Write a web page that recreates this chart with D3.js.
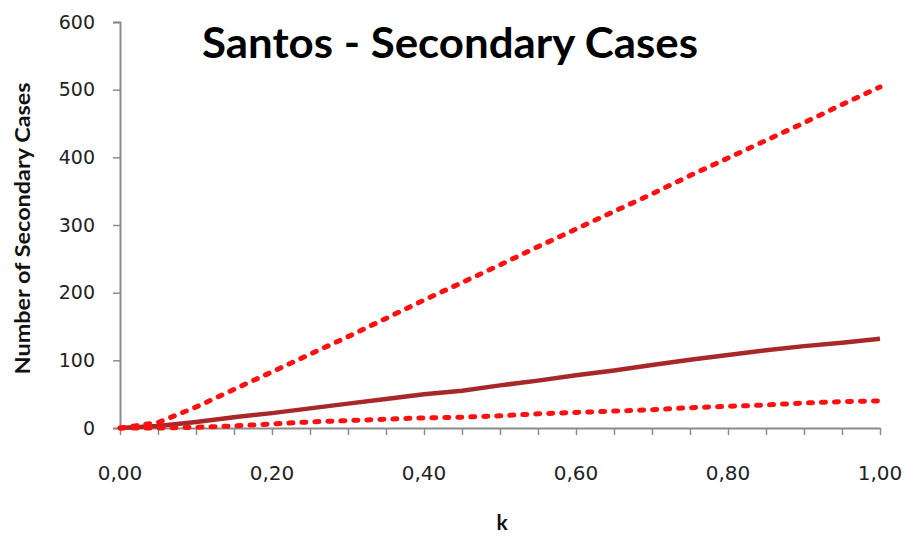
<!DOCTYPE html>
<html>
<head>
<meta charset="utf-8">
<script src="https://cdn.jsdelivr.net/npm/d3@7"></script>
<style>
  body { margin: 0; background: #fff; }
  svg { display: block; }
</style>
</head>
<body>
<svg width="907" height="536"></svg>
<script>
const kValues = [0, 0.05, 0.1, 0.15, 0.2, 0.25, 0.3, 0.35, 0.4, 0.45, 0.5,
  0.55, 0.6, 0.65, 0.7, 0.75, 0.8, 0.85, 0.9, 0.95, 1.0];
const upperCases = [0, 8, 31, 57, 83, 109, 135, 162, 189, 215, 241,
  268, 294, 320, 346, 373, 399, 425, 451, 478, 504];
const meanCases = [0, 3, 9, 16, 22, 29, 36, 43, 50, 55, 63,
  70, 78, 85, 93, 101, 108, 115, 121, 126, 132];
const lowerCases = [0, 0, 1, 3, 6, 9, 11, 13, 15, 16, 18,
  21, 23, 25, 27, 30, 32, 34, 37, 39, 40];
const yTicks = [0, 100, 200, 300, 400, 500, 600];
const xLabelTicks = [0, 0.2, 0.4, 0.6, 0.8, 1.0];

const svg = d3.select("svg");
const margin = { left: 120, right: 27, top: 22, bottom: 108 };
const width = +svg.attr("width");
const height = +svg.attr("height");

const x = d3.scaleLinear().domain([0, 1]).range([margin.left, width - margin.right]);
const y = d3.scaleLinear().domain([0, 600]).range([height - margin.bottom, margin.top]);

const axisColor = "#8c8c8c";
const tickFont = "'DejaVu Sans', Verdana, sans-serif";
const labelFont = "Lato, 'Open Sans', sans-serif";

// y axis
const yAxis = svg.append("g")
  .attr("transform", `translate(${margin.left},0)`)
  .call(d3.axisLeft(y).tickValues(yTicks).tickSize(7).tickPadding(18).tickFormat(d3.format("d")));
yAxis.select(".domain").attr("stroke", axisColor).attr("stroke-width", 2);
yAxis.selectAll(".tick line").attr("stroke", axisColor).attr("stroke-width", 1.5);
yAxis.selectAll(".tick text")
  .attr("fill", "#222").style("font-family", tickFont).style("font-size", "19px");

// x axis: minor ticks every 0.05, labels every 0.2
const xAxis = svg.append("g")
  .attr("transform", `translate(0,${y(0)})`)
  .call(d3.axisBottom(x).tickValues(kValues).tickSize(7).tickSizeOuter(0)
    .tickFormat(() => ""));
xAxis.select(".domain").attr("stroke", axisColor).attr("stroke-width", 2);
xAxis.selectAll(".tick line").attr("stroke", axisColor).attr("stroke-width", 1.5);

svg.append("g").selectAll("text")
  .data(xLabelTicks)
  .join("text")
  .attr("x", d => x(d))
  .attr("y", y(0) + 52)
  .attr("text-anchor", "middle")
  .attr("fill", "#222")
  .style("font-family", tickFont)
  .style("font-size", "20px")
  .text(d => d3.format(".2f")(d).replace(".", ","));

// lines
const line = vals => d3.line()
  .x((d, i) => x(kValues[i]))
  .y(d => y(d))(vals);

svg.append("path")
  .attr("d", line(meanCases))
  .attr("fill", "none")
  .attr("stroke", "#a8282a")
  .attr("stroke-width", 4.5)
  .attr("stroke-linejoin", "round");

[upperCases, lowerCases].forEach(vals => {
  svg.append("path")
    .attr("d", line(vals))
    .attr("fill", "none")
    .attr("stroke", "#ff1010")
    .attr("stroke-width", 5)
    .attr("stroke-linecap", "round")
    .attr("stroke-dasharray", "4,9");
});

// titles
svg.append("text")
  .attr("x", 450)
  .attr("y", 58)
  .attr("text-anchor", "middle")
  .attr("textLength", 496)
  .attr("lengthAdjust", "spacingAndGlyphs")
  .style("font-family", labelFont)
  .style("font-weight", "bold")
  .style("font-size", "42px")
  .attr("fill", "#000")
  .text("Santos - Secondary Cases");

svg.append("text")
  .attr("transform", `translate(30,${y(295)}) rotate(-90)`)
  .attr("text-anchor", "middle")
  .attr("textLength", 292)
  .attr("lengthAdjust", "spacingAndGlyphs")
  .style("font-family", labelFont)
  .style("font-weight", "bold")
  .style("font-size", "21px")
  .attr("fill", "#111")
  .text("Number of Secondary Cases");

svg.append("text")
  .attr("x", 502)
  .attr("y", 530)
  .attr("text-anchor", "middle")
  .style("font-family", labelFont)
  .style("font-weight", "bold")
  .style("font-size", "21px")
  .attr("fill", "#111")
  .text("k");
</script>
</body>
</html>
